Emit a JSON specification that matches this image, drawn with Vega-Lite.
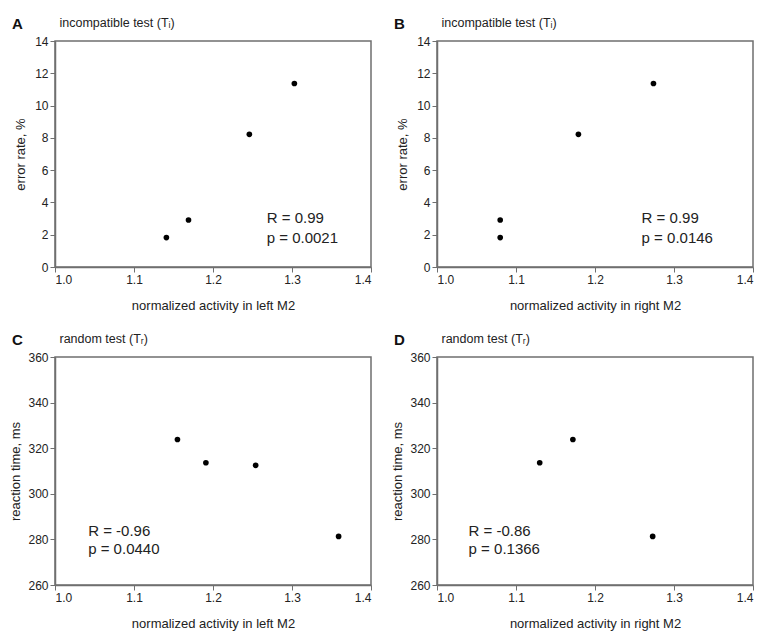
{
  "$schema": "https://vega.github.io/schema/vega-lite/v6.json",
  "padding": {"left": 9, "top": 15, "right": 5, "bottom": 5},
  "config": {
    "font": "Liberation Sans",
    "background": "white",
    "view": {"stroke": "#6f6f6f", "strokeWidth": 1.5},
    "axis": {
      "grid": false,
      "labelFontSize": 12,
      "titleFontSize": 13,
      "titleFontWeight": "normal",
      "labelColor": "#222",
      "titleColor": "#222",
      "domainColor": "#6f6f6f",
      "tickColor": "#6f6f6f",
      "domainWidth": 1.5,
      "tickSize": 5,
      "labelPadding": 2
    },
    "title": {"fontSize": 15, "fontWeight": "bold", "color": "#111", "anchor": "start", "frame": "group"}
  },
  "datasets": {
    "points": [
      {"panel": "A", "activity": 1.141, "value": 1.82},
      {"panel": "A", "activity": 1.169, "value": 2.91},
      {"panel": "A", "activity": 1.246, "value": 8.22},
      {"panel": "A", "activity": 1.303, "value": 11.37},
      {"panel": "B", "activity": 1.080, "value": 1.82},
      {"panel": "B", "activity": 1.080, "value": 2.91},
      {"panel": "B", "activity": 1.179, "value": 8.22},
      {"panel": "B", "activity": 1.274, "value": 11.37},
      {"panel": "C", "activity": 1.155, "value": 323.8},
      {"panel": "C", "activity": 1.191, "value": 313.6},
      {"panel": "C", "activity": 1.254, "value": 312.5},
      {"panel": "C", "activity": 1.359, "value": 281.3},
      {"panel": "D", "activity": 1.130, "value": 313.6},
      {"panel": "D", "activity": 1.172, "value": 323.8},
      {"panel": "D", "activity": 1.273, "value": 281.3}
    ],
    "stats": [
      {"panel": "A", "line": "R = 0.99", "sx": 1.268, "sy": 3.05},
      {"panel": "A", "line": "p = 0.0021", "sx": 1.268, "sy": 1.8},
      {"panel": "B", "line": "R = 0.99", "sx": 1.259, "sy": 3.05},
      {"panel": "B", "line": "p = 0.0146", "sx": 1.259, "sy": 1.8},
      {"panel": "C", "line": "R = -0.96", "sx": 1.042, "sy": 283.7},
      {"panel": "C", "line": "p = 0.0440", "sx": 1.042, "sy": 275.7},
      {"panel": "D", "line": "R = -0.86", "sx": 1.040, "sy": 283.7},
      {"panel": "D", "line": "p = 0.1366", "sx": 1.040, "sy": 275.7}
    ]
  },
  "columns": 2,
  "bounds": "flush",
  "spacing": {"row": 90, "column": 66},
  "concat": [
    {
      "title": {"text": "A", "dx": -43, "offset": -16},
      "width": 316,
      "height": 226,
      "layer": [
        {
          "data": {"name": "points"},
          "transform": [{"filter": "datum.panel === 'A'"}],
          "mark": {"type": "circle", "size": 32, "color": "black", "opacity": 1},
          "encoding": {
            "x": {"field": "activity", "type": "quantitative", "scale": {"domain": [1.0, 1.4]},
              "axis": {"values": [1.0, 1.1, 1.2, 1.3, 1.4], "format": ".1f", "title": "normalized activity in left M2", "titlePadding": 14}},
            "y": {"field": "value", "type": "quantitative", "scale": {"domain": [0, 14]},
              "axis": {"values": [0, 2, 4, 6, 8, 10, 12, 14], "title": "error rate, %", "titlePadding": 7}}
          }
        },
        {
          "data": {"name": "stats"},
          "transform": [{"filter": "datum.panel === 'A'"}],
          "mark": {"type": "text", "align": "left", "baseline": "middle", "fontSize": 15, "color": "#222"},
          "encoding": {
            "x": {"field": "sx", "type": "quantitative",
              "axis": {"orient": "top", "labels": false, "ticks": false, "domain": false, "title": "incompatible test (Tᵢ)", "titleAnchor": "start", "titleAlign": "left", "titleX": 4, "titleY": -15, "titleBaseline": "alphabetic", "titleFontSize": 12.5}},
            "y": {"field": "sy", "type": "quantitative", "axis": null},
            "text": {"field": "line"}
          }
        }
      ],
      "resolve": {"axis": {"x": "independent", "y": "independent"}}
    },
    {
      "title": {"text": "B", "dx": -43, "offset": -16},
      "width": 316,
      "height": 226,
      "layer": [
        {
          "data": {"name": "points"},
          "transform": [{"filter": "datum.panel === 'B'"}],
          "mark": {"type": "circle", "size": 32, "color": "black", "opacity": 1},
          "encoding": {
            "x": {"field": "activity", "type": "quantitative", "scale": {"domain": [1.0, 1.4]},
              "axis": {"values": [1.0, 1.1, 1.2, 1.3, 1.4], "format": ".1f", "title": "normalized activity in right M2", "titlePadding": 14}},
            "y": {"field": "value", "type": "quantitative", "scale": {"domain": [0, 14]},
              "axis": {"values": [0, 2, 4, 6, 8, 10, 12, 14], "title": "error rate, %", "titlePadding": 7}}
          }
        },
        {
          "data": {"name": "stats"},
          "transform": [{"filter": "datum.panel === 'B'"}],
          "mark": {"type": "text", "align": "left", "baseline": "middle", "fontSize": 15, "color": "#222"},
          "encoding": {
            "x": {"field": "sx", "type": "quantitative",
              "axis": {"orient": "top", "labels": false, "ticks": false, "domain": false, "title": "incompatible test (Tᵢ)", "titleAnchor": "start", "titleAlign": "left", "titleX": 4, "titleY": -15, "titleBaseline": "alphabetic", "titleFontSize": 12.5}},
            "y": {"field": "sy", "type": "quantitative", "axis": null},
            "text": {"field": "line"}
          }
        }
      ],
      "resolve": {"axis": {"x": "independent", "y": "independent"}}
    },
    {
      "title": {"text": "C", "dx": -43, "offset": -16},
      "width": 316,
      "height": 228,
      "layer": [
        {
          "data": {"name": "points"},
          "transform": [{"filter": "datum.panel === 'C'"}],
          "mark": {"type": "circle", "size": 32, "color": "black", "opacity": 1},
          "encoding": {
            "x": {"field": "activity", "type": "quantitative", "scale": {"domain": [1.0, 1.4]},
              "axis": {"values": [1.0, 1.1, 1.2, 1.3, 1.4], "format": ".1f", "title": "normalized activity in left M2", "titlePadding": 14}},
            "y": {"field": "value", "type": "quantitative", "scale": {"domain": [260, 360]},
              "axis": {"values": [260, 280, 300, 320, 340, 360], "title": "reaction time, ms", "titlePadding": 5}}
          }
        },
        {
          "data": {"name": "stats"},
          "transform": [{"filter": "datum.panel === 'C'"}],
          "mark": {"type": "text", "align": "left", "baseline": "middle", "fontSize": 15, "color": "#222"},
          "encoding": {
            "x": {"field": "sx", "type": "quantitative",
              "axis": {"orient": "top", "labels": false, "ticks": false, "domain": false, "title": "random test (Tᵣ)", "titleAnchor": "start", "titleAlign": "left", "titleX": 4, "titleY": -15, "titleBaseline": "alphabetic", "titleFontSize": 12.5}},
            "y": {"field": "sy", "type": "quantitative", "axis": null},
            "text": {"field": "line"}
          }
        }
      ],
      "resolve": {"axis": {"x": "independent", "y": "independent"}}
    },
    {
      "title": {"text": "D", "dx": -43, "offset": -16},
      "width": 316,
      "height": 228,
      "layer": [
        {
          "data": {"name": "points"},
          "transform": [{"filter": "datum.panel === 'D'"}],
          "mark": {"type": "circle", "size": 32, "color": "black", "opacity": 1},
          "encoding": {
            "x": {"field": "activity", "type": "quantitative", "scale": {"domain": [1.0, 1.4]},
              "axis": {"values": [1.0, 1.1, 1.2, 1.3, 1.4], "format": ".1f", "title": "normalized activity in right M2", "titlePadding": 14}},
            "y": {"field": "value", "type": "quantitative", "scale": {"domain": [260, 360]},
              "axis": {"values": [260, 280, 300, 320, 340, 360], "title": "reaction time, ms", "titlePadding": 5}}
          }
        },
        {
          "data": {"name": "stats"},
          "transform": [{"filter": "datum.panel === 'D'"}],
          "mark": {"type": "text", "align": "left", "baseline": "middle", "fontSize": 15, "color": "#222"},
          "encoding": {
            "x": {"field": "sx", "type": "quantitative",
              "axis": {"orient": "top", "labels": false, "ticks": false, "domain": false, "title": "random test (Tᵣ)", "titleAnchor": "start", "titleAlign": "left", "titleX": 4, "titleY": -15, "titleBaseline": "alphabetic", "titleFontSize": 12.5}},
            "y": {"field": "sy", "type": "quantitative", "axis": null},
            "text": {"field": "line"}
          }
        }
      ],
      "resolve": {"axis": {"x": "independent", "y": "independent"}}
    }
  ]
}
